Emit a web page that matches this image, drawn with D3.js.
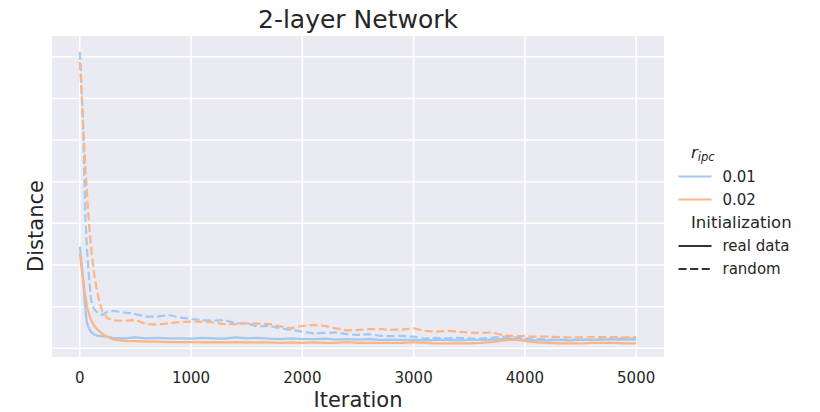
<!DOCTYPE html>
<html>
<head>
<meta charset="utf-8">
<script src="https://cdn.jsdelivr.net/npm/d3@7"></script>
<style>
  html, body { margin: 0; padding: 0; background: #ffffff; }
  svg { display: block; }
</style>
</head>
<body>
<div id="chart"></div>
<script>
// Iterations shared by every run
const iterations = [0, 10, 20, 30, 40, 50, 60, 70, 80, 90, 100, 125, 150, 175, 200, 250, 300,
  400, 500, 600, 700, 800, 900, 1000, 1100, 1200, 1300, 1400, 1500, 1600, 1700, 1800, 1900,
  2000, 2100, 2200, 2300, 2400, 2500, 2600, 2700, 2800, 2900, 3000, 3100, 3200, 3300, 3400,
  3500, 3600, 3700, 3800, 3900, 4000, 4100, 4200, 4300, 4400, 4500, 4600, 4700, 4800, 4900, 5000];

// r_ipc = 0.01, real data init
const dist001Real = [2.44, 2.2, 1.92, 1.64, 1.25, 0.92, 0.68, 0.56, 0.49, 0.44, 0.4, 0.34, 0.31, 0.3, 0.29, 0.28, 0.25,
  0.24, 0.26, 0.24, 0.25, 0.24, 0.24, 0.23, 0.25, 0.24, 0.23, 0.26, 0.24, 0.25, 0.23, 0.22, 0.24,
  0.22, 0.22, 0.23, 0.21, 0.22, 0.21, 0.22, 0.2, 0.21, 0.2, 0.2, 0.19, 0.2, 0.2, 0.19,
  0.2, 0.2, 0.21, 0.22, 0.22, 0.2, 0.19, 0.19, 0.2, 0.19, 0.2, 0.2, 0.21, 0.21, 0.21, 0.21];

// r_ipc = 0.02, real data init
const dist002Real = [2.28, 2.05, 1.85, 1.64, 1.44, 1.25, 1.08, 0.95, 0.85, 0.76, 0.68, 0.56, 0.47, 0.41, 0.36, 0.27, 0.21,
  0.18, 0.17, 0.16, 0.16, 0.15, 0.15, 0.15, 0.14, 0.15, 0.14, 0.15, 0.14, 0.14, 0.14, 0.13, 0.14,
  0.13, 0.14, 0.13, 0.13, 0.15, 0.13, 0.13, 0.13, 0.13, 0.13, 0.15, 0.13, 0.12, 0.12, 0.12,
  0.12, 0.13, 0.15, 0.19, 0.21, 0.18, 0.14, 0.13, 0.12, 0.12, 0.12, 0.13, 0.13, 0.13, 0.12, 0.12];

// r_ipc = 0.01, random init
const dist001Random = [7.12, 6.6, 6.0, 5.3, 4.2, 3.2, 2.6, 2.15, 1.8, 1.48, 1.18, 0.95, 0.88, 0.84, 0.8, 0.88, 0.9,
  0.86, 0.82, 0.76, 0.76, 0.8, 0.74, 0.7, 0.68, 0.66, 0.68, 0.6, 0.6, 0.52, 0.54, 0.48, 0.44,
  0.4, 0.36, 0.37, 0.38, 0.34, 0.32, 0.34, 0.3, 0.29, 0.3, 0.28, 0.23, 0.25, 0.24, 0.25,
  0.24, 0.23, 0.25, 0.28, 0.26, 0.24, 0.23, 0.21, 0.2, 0.21, 0.21, 0.2, 0.22, 0.23, 0.23, 0.23];

// r_ipc = 0.02, random init
const dist002Random = [6.88, 6.4, 5.9, 5.35, 4.85, 4.35, 3.9, 3.5, 3.1, 2.75, 2.45, 1.85, 1.45, 1.12, 0.9, 0.72, 0.67,
  0.66, 0.68, 0.58, 0.57, 0.6, 0.63, 0.64, 0.64, 0.62, 0.58, 0.58, 0.6, 0.59, 0.58, 0.53, 0.48,
  0.54, 0.56, 0.54, 0.48, 0.43, 0.44, 0.46, 0.46, 0.44, 0.45, 0.48, 0.42, 0.4, 0.42, 0.4,
  0.38, 0.37, 0.38, 0.32, 0.29, 0.29, 0.28, 0.28, 0.27, 0.26, 0.26, 0.27, 0.27, 0.27, 0.26, 0.26];

const xTicks = [0, 1000, 2000, 3000, 4000, 5000];
const yGrid = [0, 1, 2, 3, 4, 5, 6, 7];
const hueLabels = ['0.01', '0.02'];
const styleLabels = ['real data', 'random'];

const width = 820, height = 412;
const plot = { left: 52, right: 664, top: 36, bottom: 357 };
const hueColors = ['#a1c9f4', '#ffb482'];
const dashes = [null, '8.1,3.5'];
const lineWidth = 2.2;
const textColor = '#262626';
const font = '"DejaVu Sans", sans-serif';

const series = [
  { values: dist001Real, hue: 0, style: 0 },
  { values: dist001Random, hue: 0, style: 1 },
  { values: dist002Real, hue: 1, style: 0 },
  { values: dist002Random, hue: 1, style: 1 }
];

const svg = d3.select('#chart').append('svg')
  .attr('width', width)
  .attr('height', height);

const x = d3.scaleLinear()
  .domain([-250, 5250])
  .range([plot.left, plot.right]);

const y = d3.scaleLinear()
  .domain([-0.209, 7.498])
  .range([plot.bottom, plot.top]);

// Axes background
svg.append('rect')
  .attr('x', plot.left)
  .attr('y', plot.top)
  .attr('width', plot.right - plot.left)
  .attr('height', plot.bottom - plot.top)
  .attr('fill', '#eaeaf2');

svg.append('clipPath')
  .attr('id', 'plot-clip')
  .append('rect')
  .attr('x', plot.left)
  .attr('y', plot.top)
  .attr('width', plot.right - plot.left)
  .attr('height', plot.bottom - plot.top);

// Grid lines
svg.append('g')
  .selectAll('line')
  .data(xTicks)
  .join('line')
  .attr('x1', d => x(d))
  .attr('x2', d => x(d))
  .attr('y1', plot.top)
  .attr('y2', plot.bottom)
  .attr('stroke', '#ffffff')
  .attr('stroke-width', 1.5);

svg.append('g')
  .selectAll('line')
  .data(yGrid)
  .join('line')
  .attr('x1', plot.left)
  .attr('x2', plot.right)
  .attr('y1', d => y(d))
  .attr('y2', d => y(d))
  .attr('stroke', '#ffffff')
  .attr('stroke-width', 1.5);

// X tick labels
svg.append('g')
  .selectAll('text')
  .data(xTicks)
  .join('text')
  .attr('x', d => x(d))
  .attr('y', 383)
  .attr('text-anchor', 'middle')
  .attr('fill', textColor)
  .attr('font-size', '15px')
  .attr('font-family', font)
  .text(d => d);

// Lines
const line = d3.line()
  .x((d, i) => x(iterations[i]))
  .y(d => y(d));

svg.append('g')
  .attr('clip-path', 'url(#plot-clip)')
  .selectAll('path')
  .data(series)
  .join('path')
  .attr('d', d => line(d.values))
  .attr('fill', 'none')
  .attr('stroke', d => hueColors[d.hue])
  .attr('stroke-width', lineWidth)
  .attr('stroke-dasharray', d => dashes[d.style])
  .attr('stroke-linejoin', 'round');

// Title and axis labels
svg.append('text')
  .attr('x', (plot.left + plot.right) / 2)
  .attr('y', 28)
  .attr('text-anchor', 'middle')
  .attr('fill', textColor)
  .attr('font-size', '25px')
  .attr('font-family', font)
  .text('2-layer Network');

svg.append('text')
  .attr('x', (plot.left + plot.right) / 2)
  .attr('y', 407)
  .attr('text-anchor', 'middle')
  .attr('fill', textColor)
  .attr('font-size', '21px')
  .attr('font-family', font)
  .text('Iteration');

svg.append('text')
  .attr('transform', 'translate(42.5,226) rotate(-90)')
  .attr('text-anchor', 'middle')
  .attr('fill', textColor)
  .attr('font-size', '21px')
  .attr('font-family', font)
  .text('Distance');

// Legend
const legend = svg.append('g');

const legendTitle = legend.append('text')
  .attr('x', 691)
  .attr('y', 158)
  .attr('fill', textColor)
  .attr('font-family', font)
  .attr('font-style', 'italic');
legendTitle.append('tspan')
  .attr('font-size', '16.5px')
  .text('r');
legendTitle.append('tspan')
  .attr('font-size', '11.5px')
  .attr('dy', 3)
  .text('ipc');

const hueRows = [176.5, 199.5];
hueLabels.forEach((label, i) => {
  legend.append('line')
    .attr('x1', 678.5)
    .attr('x2', 711.5)
    .attr('y1', hueRows[i])
    .attr('y2', hueRows[i])
    .attr('stroke', hueColors[i])
    .attr('stroke-width', lineWidth);
  legend.append('text')
    .attr('x', 722.5)
    .attr('y', hueRows[i] + 5.3)
    .attr('fill', textColor)
    .attr('font-size', '15px')
    .attr('font-family', font)
    .text(label);
});

legend.append('text')
  .attr('x', 691)
  .attr('y', 228)
  .attr('fill', textColor)
  .attr('font-size', '16.5px')
  .attr('font-family', font)
  .text('Initialization');

const styleRows = [246, 269];
styleLabels.forEach((label, i) => {
  legend.append('line')
    .attr('x1', 678.5)
    .attr('x2', 711.5)
    .attr('y1', styleRows[i])
    .attr('y2', styleRows[i])
    .attr('stroke', '#333333')
    .attr('stroke-width', lineWidth)
    .attr('stroke-dasharray', dashes[i]);
  legend.append('text')
    .attr('x', 722.5)
    .attr('y', styleRows[i] + 5.3)
    .attr('fill', textColor)
    .attr('font-size', '15px')
    .attr('font-family', font)
    .text(label);
});
</script>
</body>
</html>
